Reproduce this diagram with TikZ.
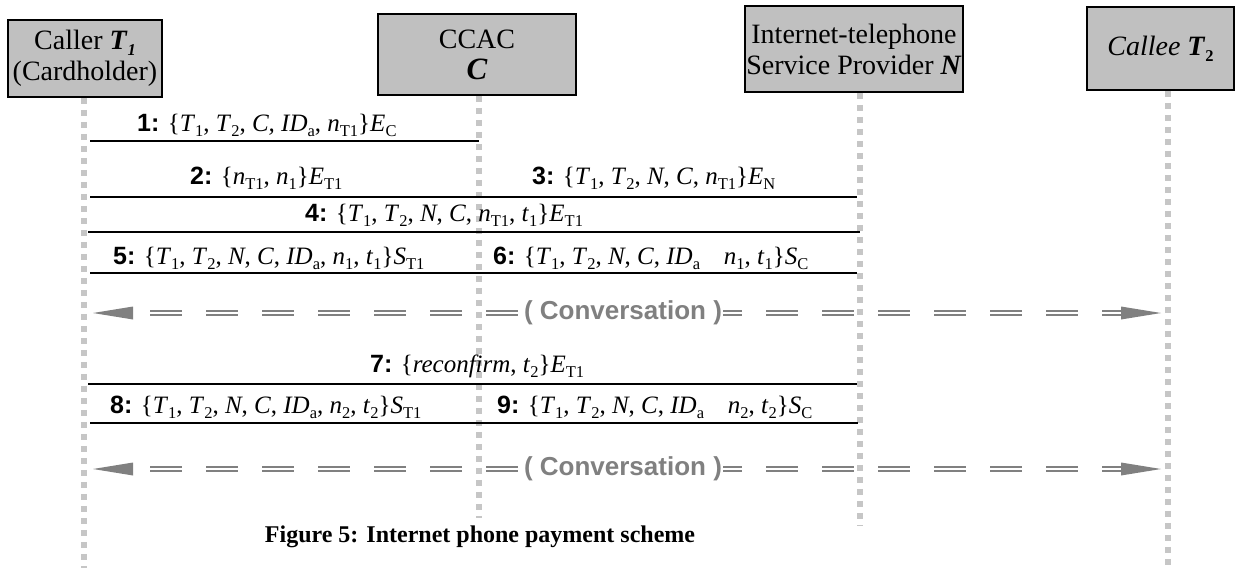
\documentclass[tikz,border=0pt]{standalone}
\usepackage{fontspec}
\setmainfont{Liberation Serif}
\setsansfont{Liberation Sans}
\usetikzlibrary{calc}
\definecolor{boxgray}{HTML}{C0C0C0}
\definecolor{lifegray}{HTML}{C6C6C6}
\definecolor{convgray}{HTML}{808080}
% lowered small index (subscript) in text mode
\newcommand\sbs[1]{\raisebox{-0.22em}{\fontsize{16.5}{16.5}\selectfont #1}}
\newcommand\vr[2]{\textit{#1}\sbs{#2}}
\newcommand\msgno[1]{{\sffamily\bfseries #1}}
\tikzset{
  actor/.style={draw=black, line width=1.8pt, fill=boxgray, align=center,
    inner sep=0pt, font=\fontsize{28}{31}\selectfont},
  lifeline/.style={draw=lifegray, line width=6pt, dash pattern=on 6pt off 6pt},
  msg/.style={draw=black, line width=1.6pt},
  msgtext/.style={anchor=base west, inner sep=0pt, font=\fontsize{25}{30}\selectfont},
  conv/.style={draw=convgray, line width=1.5pt, double=white, double distance=2.2pt,
    dash pattern=on 32pt off 24pt, dash phase=39pt},
  convtext/.style={fill=white, text=convgray, inner sep=1pt,
    font=\sffamily\bfseries\fontsize{26}{30}\selectfont},
  captext/.style={inner sep=0pt, font=\bfseries\fontsize{24}{28}\selectfont}
}
\begin{document}
\begin{tikzpicture}[x=1pt,y=-1pt]
\useasboundingbox (0,0) rectangle (1236,568);

% participants
\node[actor, minimum width=154pt, minimum height=77pt] (caller) at (85,58.5)
  {Caller \textbf{\textit{T}}\sbs{\bfseries\itshape 1}\\(Cardholder)};
\node[actor, minimum width=198pt, minimum height=81pt] (ccac) at (477,54.5)
  {CCAC\\{\bfseries\itshape\fontsize{31}{31}\selectfont C}};
\node[actor, minimum width=218pt, minimum height=86pt] (isp) at (854,49)
  {Internet-telephone\\Service Provider \textbf{\textit{N}}};
\node[actor, minimum width=147pt, minimum height=83pt] (callee) at (1160.5,48.5)
  {\textit{Callee} \textbf{\textit{T}}\sbs{\bfseries 2}};

% lifeline ends
\coordinate (Lcaller) at (84,568);
\coordinate (Lccac) at (479,518);
\coordinate (Lisp) at (860,525);
\coordinate (Lcallee) at (1168,568);

\draw[lifeline] (caller.south -| Lcaller) -- (Lcaller);
\draw[lifeline] (ccac.south -| Lccac) -- (Lccac);
\draw[lifeline] (isp.south -| Lisp) -- (Lisp);
\draw[lifeline] (callee.south -| Lcallee) -- (Lcallee);

% messages
\draw[msg, shorten <=6pt] (Lcaller |- 0,141) -- (Lccac |- 0,141);
\node[msgtext] (m1) at (137,131)
  {\msgno{1:} \{\vr{T}{1}, \vr{T}{2}, \textit{C, ID}\sbs{a}, \vr{n}{T1}\}\vr{E}{C}};

\draw[msg, shorten <=6pt] (Lcaller |- 0,197) -- (Lccac |- 0,197);
\node[msgtext] (m2) at (190,184)
  {\msgno{2:} \{\vr{n}{T1}, \vr{n}{1}\}\vr{E}{T1}};

\draw[msg, shorten >=3pt] (Lccac |- 0,197) -- (Lisp |- 0,197);
\node[msgtext] (m3) at (532,184)
  {\msgno{3:} \{\vr{T}{1}, \vr{T}{2}, \textit{N}, \textit{C}, \vr{n}{T1}\}\vr{E}{N}};

\draw[msg, shorten <=4pt] (Lcaller |- 0,232) -- (Lisp |- 0,232);
\node[msgtext] (m4) at (305,221)
  {\msgno{4:} \{\vr{T}{1}, \vr{T}{2}, \textit{N}, \textit{C}, \vr{n}{T1}, \vr{t}{1}\}\vr{E}{T1}};

\draw[msg, shorten <=6pt] (Lcaller |- 0,273) -- (Lccac |- 0,273);
\node[msgtext] (m5) at (113,264)
  {\msgno{5:} \{\vr{T}{1}, \vr{T}{2}, \textit{N}, \textit{C}, \textit{ID}\sbs{a}, \vr{n}{1}, \vr{t}{1}\}\vr{S}{T1}};

\draw[msg, shorten >=3pt] (Lccac |- 0,273) -- (Lisp |- 0,273);
\node[msgtext] (m6) at (493,264)
  {\msgno{6:} \{\vr{T}{1}, \vr{T}{2}, \textit{N}, \textit{C}, \textit{ID}\sbs{a}\hspace{0.95em}\vr{n}{1}, \vr{t}{1}\}\vr{S}{C}};

\draw[msg, shorten <=4pt, shorten >=3pt] (Lcaller |- 0,384) -- (Lisp |- 0,384);
\node[msgtext] (m7) at (370,372)
  {\msgno{7:} \{\textit{reconfirm}, \vr{t}{2}\}\vr{E}{T1}};

\draw[msg, shorten <=6pt] (Lcaller |- 0,423) -- (Lccac |- 0,423);
\node[msgtext] (m8) at (110,413)
  {\msgno{8:} \{\vr{T}{1}, \vr{T}{2}, \textit{N}, \textit{C}, \textit{ID}\sbs{a}, \vr{n}{2}, \vr{t}{2}\}\vr{S}{T1}};

\draw[msg, shorten >=2pt] (Lccac |- 0,423) -- (Lisp |- 0,423);
\node[msgtext] (m9) at (497,413)
  {\msgno{9:} \{\vr{T}{1}, \vr{T}{2}, \textit{N}, \textit{C}, \textit{ID}\sbs{a}\hspace{0.95em}\vr{n}{2}, \vr{t}{2}\}\vr{S}{C}};

% conversations between the two parties
\foreach \yy/\nm in {313/cvA, 469/cvB}{
  \path (Lcaller |- 0,\yy) ++(9,0) coordinate (\nm l);
  \path (Lcallee |- 0,\yy) ++(-7,0) coordinate (\nm r);
  \draw[conv] ($(\nm l)+(40,0)$) -- ($(\nm r)+(-40,0)$);
  \fill[convgray] (\nm l) -- ++(40,-6.5) -- ++(0,13) -- cycle;
  \fill[convgray] (\nm r) -- ++(-40,-6.5) -- ++(0,13) -- cycle;
  \node[convtext] (\nm) at (623,\yy) {( Conversation )};
}

% caption
\node[captext] (cap) at (480,537) {Figure 5: Internet phone payment scheme};
\end{tikzpicture}
\end{document}
